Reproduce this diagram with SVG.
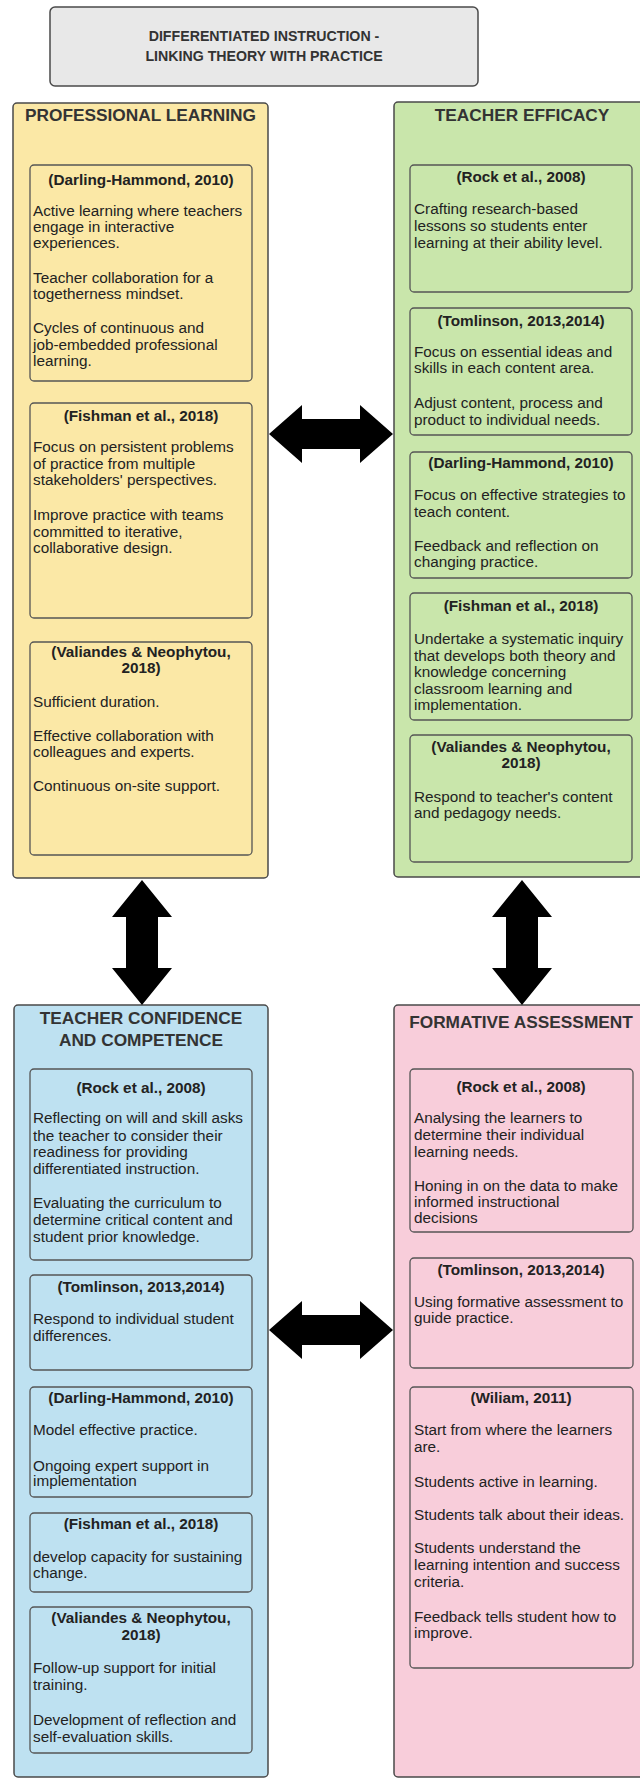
<svg xmlns="http://www.w3.org/2000/svg" width="640" height="1779" viewBox="0 0 640 1779">
<style>
.panel{stroke:#4a4a4a;stroke-width:1.5}
.box{stroke:#555;stroke-width:1.3}
.y{fill:#fbe8a6}.g{fill:#c9e6ab}.b{fill:#bee1f1}.p{fill:#f8cdda}
.ttl{font-family:"Liberation Sans",Arial,sans-serif;font-weight:bold;font-size:14.2px;fill:#333;text-anchor:middle}
.pt{font-family:"Liberation Sans",Arial,sans-serif;font-weight:bold;font-size:17.3px;fill:#333;text-anchor:middle}
.hd{font-family:"Liberation Sans",Arial,sans-serif;font-weight:bold;font-size:15.3px;fill:#222;text-anchor:middle}
.tx{font-family:"Liberation Sans",Arial,sans-serif;font-size:15.3px;fill:#222}
.arr{fill:#000}
</style>
<rect width="640" height="1779" fill="#ffffff"/>

<g id="title">
<rect x="50" y="7" width="428" height="79" rx="5" fill="#e8e8e8" class="panel"/>
<text class="ttl" x="264" y="41">DIFFERENTIATED INSTRUCTION -</text>
<text class="ttl" x="264" y="61">LINKING THEORY WITH PRACTICE</text>
</g>

<g id="professional-learning">
<rect x="13" y="103" width="255" height="775" rx="4" class="panel y"/>
<text class="pt" x="140.5" y="121">PROFESSIONAL LEARNING</text>
<rect x="30" y="165" width="222" height="216" rx="4" class="box y"/>
<text class="hd" x="141" y="185">(Darling-Hammond, 2010)</text>
<text class="tx" x="33" y="216">Active learning where teachers</text>
<text class="tx" x="33" y="232">engage in interactive</text>
<text class="tx" x="33" y="248">experiences.</text>
<text class="tx" x="33" y="283">Teacher collaboration for a</text>
<text class="tx" x="33" y="299">togetherness mindset.</text>
<text class="tx" x="33" y="333">Cycles of continuous and</text>
<text class="tx" x="33" y="350">job-embedded professional</text>
<text class="tx" x="33" y="366">learning.</text>
<rect x="30" y="403" width="222" height="215" rx="4" class="box y"/>
<text class="hd" x="141" y="421">(Fishman et al., 2018)</text>
<text class="tx" x="33" y="452">Focus on persistent problems</text>
<text class="tx" x="33" y="469">of practice from multiple</text>
<text class="tx" x="33" y="485">stakeholders' perspectives.</text>
<text class="tx" x="33" y="520">Improve practice with teams</text>
<text class="tx" x="33" y="537">committed to iterative,</text>
<text class="tx" x="33" y="553">collaborative design.</text>
<rect x="30" y="642" width="222" height="213" rx="4" class="box y"/>
<text class="hd" x="141" y="657">(Valiandes &amp; Neophytou,</text>
<text class="hd" x="141" y="673">2018)</text>
<text class="tx" x="33" y="707">Sufficient duration.</text>
<text class="tx" x="33" y="741">Effective collaboration with</text>
<text class="tx" x="33" y="757">colleagues and experts.</text>
<text class="tx" x="33" y="791">Continuous on-site support.</text>
</g>

<g id="teacher-efficacy">
<rect x="394" y="102" width="256" height="775" rx="4" class="panel g"/>
<text class="pt" x="522" y="121">TEACHER EFFICACY</text>
<rect x="410" y="165" width="222" height="127" rx="4" class="box g"/>
<text class="hd" x="521" y="182">(Rock et al., 2008)</text>
<text class="tx" x="414" y="214">Crafting research-based</text>
<text class="tx" x="414" y="231">lessons so students enter</text>
<text class="tx" x="414" y="248">learning at their ability level.</text>
<rect x="410" y="308" width="222" height="127" rx="4" class="box g"/>
<text class="hd" x="521" y="326">(Tomlinson, 2013,2014)</text>
<text class="tx" x="414" y="357">Focus on essential ideas and</text>
<text class="tx" x="414" y="373">skills in each content area.</text>
<text class="tx" x="414" y="408">Adjust content, process and</text>
<text class="tx" x="414" y="425">product to individual needs.</text>
<rect x="410" y="452" width="222" height="126" rx="4" class="box g"/>
<text class="hd" x="521" y="468">(Darling-Hammond, 2010)</text>
<text class="tx" x="414" y="500">Focus on effective strategies to</text>
<text class="tx" x="414" y="517">teach content.</text>
<text class="tx" x="414" y="551">Feedback and reflection on</text>
<text class="tx" x="414" y="567">changing practice.</text>
<rect x="410" y="593" width="222" height="127" rx="4" class="box g"/>
<text class="hd" x="521" y="611">(Fishman et al., 2018)</text>
<text class="tx" x="414" y="644">Undertake a systematic inquiry</text>
<text class="tx" x="414" y="661">that develops both theory and</text>
<text class="tx" x="414" y="677">knowledge concerning</text>
<text class="tx" x="414" y="694">classroom learning and</text>
<text class="tx" x="414" y="710">implementation.</text>
<rect x="410" y="735" width="222" height="127" rx="4" class="box g"/>
<text class="hd" x="521" y="752">(Valiandes &amp; Neophytou,</text>
<text class="hd" x="521" y="768">2018)</text>
<text class="tx" x="414" y="802">Respond to teacher's content</text>
<text class="tx" x="414" y="818">and pedagogy needs.</text>
</g>

<g id="teacher-confidence">
<rect x="14" y="1005" width="254" height="772" rx="4" class="panel b"/>
<text class="pt" x="141" y="1024">TEACHER CONFIDENCE</text>
<text class="pt" x="141" y="1046">AND COMPETENCE</text>
<rect x="30" y="1069" width="222" height="191" rx="4" class="box b"/>
<text class="hd" x="141" y="1093">(Rock et al., 2008)</text>
<text class="tx" x="33" y="1123">Reflecting on will and skill asks</text>
<text class="tx" x="33" y="1141">the teacher to consider their</text>
<text class="tx" x="33" y="1157">readiness for providing</text>
<text class="tx" x="33" y="1174">differentiated instruction.</text>
<text class="tx" x="33" y="1208">Evaluating the curriculum to</text>
<text class="tx" x="33" y="1225">determine critical content and</text>
<text class="tx" x="33" y="1242">student prior knowledge.</text>
<rect x="30" y="1275" width="222" height="95" rx="4" class="box b"/>
<text class="hd" x="141" y="1292">(Tomlinson, 2013,2014)</text>
<text class="tx" x="33" y="1324">Respond to individual student</text>
<text class="tx" x="33" y="1341">differences.</text>
<rect x="30" y="1387" width="222" height="110" rx="4" class="box b"/>
<text class="hd" x="141" y="1403">(Darling-Hammond, 2010)</text>
<text class="tx" x="33" y="1435">Model effective practice.</text>
<text class="tx" x="33" y="1471">Ongoing expert support in</text>
<text class="tx" x="33" y="1486">implementation</text>
<rect x="30" y="1513" width="222" height="79" rx="4" class="box b"/>
<text class="hd" x="141" y="1529">(Fishman et al., 2018)</text>
<text class="tx" x="33" y="1562">develop capacity for sustaining</text>
<text class="tx" x="33" y="1578">change.</text>
<rect x="30" y="1607" width="222" height="146" rx="4" class="box b"/>
<text class="hd" x="141" y="1623">(Valiandes &amp; Neophytou,</text>
<text class="hd" x="141" y="1640">2018)</text>
<text class="tx" x="33" y="1673">Follow-up support for initial</text>
<text class="tx" x="33" y="1690">training.</text>
<text class="tx" x="33" y="1725">Development of reflection and</text>
<text class="tx" x="33" y="1742">self-evaluation skills.</text>
</g>

<g id="formative-assessment">
<rect x="394" y="1005" width="256" height="772" rx="4" class="panel p"/>
<text class="pt" x="521" y="1028">FORMATIVE ASSESSMENT</text>
<rect x="410" y="1069" width="223" height="163" rx="4" class="box p"/>
<text class="hd" x="521" y="1092">(Rock et al., 2008)</text>
<text class="tx" x="414" y="1123">Analysing the learners to</text>
<text class="tx" x="414" y="1140">determine their individual</text>
<text class="tx" x="414" y="1157">learning needs.</text>
<text class="tx" x="414" y="1191">Honing in on the data to make</text>
<text class="tx" x="414" y="1207">informed instructional</text>
<text class="tx" x="414" y="1223">decisions</text>
<rect x="410" y="1258" width="223" height="110" rx="4" class="box p"/>
<text class="hd" x="521" y="1275">(Tomlinson, 2013,2014)</text>
<text class="tx" x="414" y="1307">Using formative assessment to</text>
<text class="tx" x="414" y="1323">guide practice.</text>
<rect x="410" y="1387" width="223" height="281" rx="4" class="box p"/>
<text class="hd" x="521" y="1403">(Wiliam, 2011)</text>
<text class="tx" x="414" y="1435">Start from where the learners</text>
<text class="tx" x="414" y="1452">are.</text>
<text class="tx" x="414" y="1487">Students active in learning.</text>
<text class="tx" x="414" y="1520">Students talk about their ideas.</text>
<text class="tx" x="414" y="1553">Students understand the</text>
<text class="tx" x="414" y="1570">learning intention and success</text>
<text class="tx" x="414" y="1587">criteria.</text>
<text class="tx" x="414" y="1622">Feedback tells student how to</text>
<text class="tx" x="414" y="1638">improve.</text>
</g>

<g id="connectors">
<path class="arr" d="M269,434 L302,405 L302,419 L360,419 L360,405 L393,434 L360,463 L360,449 L302,449 L302,463 Z"/>
<path class="arr" d="M269,1330 L302,1301 L302,1315 L360,1315 L360,1301 L393,1330 L360,1359 L360,1345 L302,1345 L302,1359 Z"/>
<path class="arr" d="M142,880 L172,917 L158,917 L158,968 L172,968 L142,1005 L112,968 L126,968 L126,917 L112,917 Z"/>
<path class="arr" d="M522,880 L552,917 L538,917 L538,968 L552,968 L522,1005 L492,968 L506,968 L506,917 L492,917 Z"/>
</g>
</svg>
